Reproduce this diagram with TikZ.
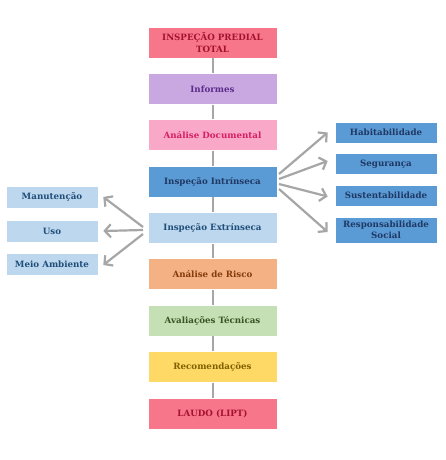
\documentclass[tikz,border=0pt]{standalone}
\usepackage{fontspec}
\setmainfont{DejaVu Serif}
\usetikzlibrary{arrows.meta}
\definecolor{cRed}{HTML}{F8768A}
\definecolor{tRed}{HTML}{A3122E}
\definecolor{cLav}{HTML}{C9A8E2}
\definecolor{tLav}{HTML}{5B2C8A}
\definecolor{cPink}{HTML}{F9A8C8}
\definecolor{tPink}{HTML}{D61F62}
\definecolor{cBlue}{HTML}{5B9BD5}
\definecolor{tBlue}{HTML}{1F3864}
\definecolor{cLBlue}{HTML}{BDD7EE}
\definecolor{tLBlue}{HTML}{1F4E79}
\definecolor{cOr}{HTML}{F4B183}
\definecolor{tOr}{HTML}{843C0C}
\definecolor{cGr}{HTML}{C5E0B4}
\definecolor{tGr}{HTML}{375623}
\definecolor{cYe}{HTML}{FFD966}
\definecolor{tYe}{HTML}{7F6000}
\definecolor{cLine}{HTML}{A6A6A6}
\tikzset{
  txt/.style={font=\fontsize{8.7}{11.5}\selectfont\bfseries},
  box/.style={txt, draw=white, line width=0.6pt, minimum width=129pt, minimum height=31pt, inner sep=1pt, align=center},
  sidebox/.style={txt, draw=white, line width=0.6pt, minimum width=102pt, minimum height=21pt, inner sep=1pt, align=center},
  lbox/.style={txt, draw=white, line width=0.6pt, minimum width=92pt, minimum height=22pt, inner sep=1pt, align=center},
  vline/.style={draw=cLine, line width=2pt},
  arr/.style={draw=cLine, line width=2.2pt, -{Straight Barb[length=6pt,width=13pt]}}
}
\begin{document}
\begin{tikzpicture}[x=1pt,y=-1pt]
\useasboundingbox[fill=white] (0,0) rectangle (446,460);
% center column
\node[box, fill=cRed, text=tRed] (a) at (212.5,42.5) {INSPEÇÃO PREDIAL\\TOTAL};
\node[box, fill=cLav, text=tLav] (b) at (212.5,89) {Informes};
\node[box, fill=cPink, text=tPink] (c) at (212.5,135) {Análise Documental};
\node[box, fill=cBlue, text=tBlue] (d) at (212.5,181.5) {Inspeção Intrínseca};
\node[box, fill=cLBlue, text=tLBlue] (e) at (212.5,228) {Inspeção Extrínseca};
\node[box, fill=cOr, text=tOr] (f) at (212.5,274) {Análise de Risco};
\node[box, fill=cGr, text=tGr] (g) at (212.5,320.5) {Avaliações Técnicas};
\node[box, fill=cYe, text=tYe] (h) at (212.5,367) {Recomendações};
\node[box, fill=cRed, text=tRed] (i) at (212.5,414) {LAUDO (LIPT)};
\foreach \u/\v in {a/b,b/c,c/d,d/e,e/f,f/g,g/h,h/i}
  \draw[vline] (\u.south) -- (\v.north);
% right boxes
\node[sidebox, fill=cBlue, text=tBlue] (r1) at (386,132.5) {Habitabilidade};
\node[sidebox, fill=cBlue, text=tBlue] (r2) at (386,164) {Segurança};
\node[sidebox, fill=cBlue, text=tBlue] (r3) at (386,195.5) {Sustentabilidade};
\node[sidebox, fill=cBlue, text=tBlue, minimum height=26pt] (r4) at (386,230) {Responsabilidade\\Social};
% left boxes
\node[lbox, fill=cLBlue, text=tLBlue] (l1) at (52,197) {Manutenção};
\node[lbox, fill=cLBlue, text=tLBlue] (l2) at (52,231) {Uso};
\node[lbox, fill=cLBlue, text=tLBlue] (l3) at (52,264) {Meio Ambiente};
% arrows right
\coordinate (s1) at (279,174);
\coordinate (s2) at (279,179);
\coordinate (s3) at (279,184);
\coordinate (s4) at (279,189);
\draw[arr] (s1) -- ([xshift=-7pt]r1.west);
\draw[arr] (s2) -- ([xshift=-7pt,yshift=3pt]r2.west);
\draw[arr] (s3) -- ([xshift=-7pt,yshift=-1pt]r3.west);
\draw[arr] (s4) -- ([xshift=-7pt,yshift=-2pt]r4.west);
% arrows left
\coordinate (t1) at (143,227);
\coordinate (t2) at (143,230);
\coordinate (t3) at (143,234);
\draw[arr] (t1) -- ([xshift=5pt]l1.east);
\draw[arr] (t2) -- ([xshift=5pt]l2.east);
\draw[arr] (t3) -- ([xshift=5pt,yshift=-1pt]l3.east);
\end{tikzpicture}
\end{document}
